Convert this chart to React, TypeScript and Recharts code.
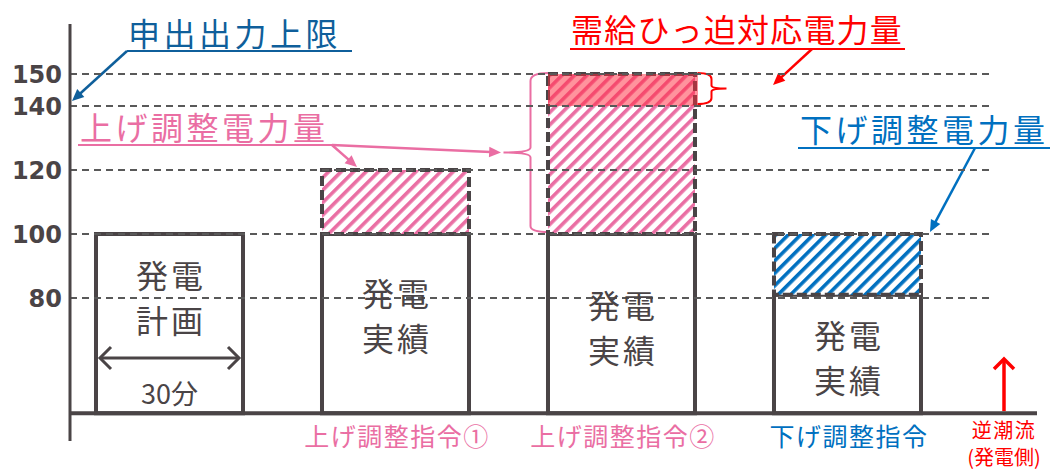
import { ComposedChart, Bar, XAxis, YAxis, ReferenceLine, LabelList, Cell, Customized } from "recharts";

const categories = ["発電計画", "上げ調整指令①", "上げ調整指令②", "下げ調整指令"];
const axisLabels = ["", "上げ調整指令①", "上げ調整指令②", "下げ調整指令"];
const positions = [0, 1, 2, 3];
const barTexts = [
  ["発電", "計画"],
  ["発電", "実績"],
  ["発電", "実績"],
  ["発電", "実績"],
];
const baseLevel = 44;
const actualValues = [100, 100, 100, 81];
const adjustRanges: (number[] | null)[] = [null, [100, 120], [100, 150], [81, 100]];
const tightRanges: (number[] | null)[] = [null, null, [140, 150], null];
const yTicks = [80, 100, 120, 140, 150];
const gridLevels = [80, 100, 120, 140, 150];
const durationLabel = "30分";

const DARK = "#4a4446";
const PINK = "#ea6ea3";
const BLUE = "#0070c0";
const NAVY = "#0f5f9b";
const RED = "#ff0000";
const JP = "'Noto Sans CJK JP', 'Noto Sans', sans-serif";

// chart frame
const W = 1053;
const H = 469;
const PLOT_L = 70;
const PLOT_R = 1037;
const PLOT_T = 24;
const PLOT_B = 441;
const X_DOMAIN: [number, number] = [-0.4469, 3.8319];
const Y_DOMAIN: [number, number] = [35.3125, 165.625];
const BAR = 147;

const sx = (v: number) => PLOT_L + ((v - X_DOMAIN[0]) / (X_DOMAIN[1] - X_DOMAIN[0])) * (PLOT_R - PLOT_L);
const sy = (v: number) => PLOT_B - ((v - Y_DOMAIN[0]) / (Y_DOMAIN[1] - Y_DOMAIN[0])) * (PLOT_B - PLOT_T);

const hatchFills = ["#fff", "url(#hatchPink)", "url(#hatchPink)", "url(#hatchBlue)"];
const axisColors = [DARK, PINK, PINK, BLUE];
const textShift = [-27, -9, 3, 2];

const data = positions.map((pos, i) => ({
  pos,
  name: categories[i],
  actual: [baseLevel, actualValues[i]],
  adjust: adjustRanges[i],
  tight: tightRanges[i],
}));

function Arrow({ x1, y1, x2, y2, color, width = 2.5, head = 13 }: any) {
  const a = Math.atan2(y2 - y1, x2 - x1);
  const s = 0.42;
  const p1 = [x2 - head * Math.cos(a - s), y2 - head * Math.sin(a - s)];
  const p2 = [x2 - head * Math.cos(a + s), y2 - head * Math.sin(a + s)];
  const bx = x2 - head * 0.8 * Math.cos(a);
  const by = y2 - head * 0.8 * Math.sin(a);
  return (
    <g>
      <line x1={x1} y1={y1} x2={bx} y2={by} stroke={color} strokeWidth={width} />
      <polygon points={`${x2},${y2} ${p1[0]},${p1[1]} ${p2[0]},${p2[1]}`} fill={color} />
    </g>
  );
}

function Chevron({ x, y, dir, color, size = 11, width = 3 }: any) {
  const pts =
    dir === "left"
      ? `${x + size},${y - size} ${x},${y} ${x + size},${y + size}`
      : dir === "right"
      ? `${x - size},${y - size} ${x},${y} ${x - size},${y + size}`
      : `${x - size},${y + size} ${x},${y} ${x + size},${y + size}`;
  return <polyline points={pts} fill="none" stroke={color} strokeWidth={width} />;
}

function BarText(props: any) {
  const { x, y, width, height, index } = props;
  const cx = x + width / 2;
  const cy = y + height / 2 + textShift[index];
  const lines = barTexts[index];
  const l = x + 4;
  const r = x + width - 4;
  return (
    <g>
      {lines.map((t, k) => (
        <text
          key={k}
          x={cx + 1.5}
          y={cy + (k - 0.5) * 45}
          textAnchor="middle"
          dominantBaseline="central"
          fontFamily={JP}
          fontSize={32}
          letterSpacing={3}
          fill={DARK}
        >
          {t}
        </text>
      ))}
      {index === 0 && (
        <g>
          <line x1={l} y1={358} x2={r} y2={358} stroke={DARK} strokeWidth={3} />
          <Chevron x={l} y={358} dir="left" color={DARK} />
          <Chevron x={r} y={358} dir="right" color={DARK} />
          <text x={cx} y={392} textAnchor="middle" dominantBaseline="central" fontFamily={JP} fontSize={27} fill={DARK}>
            {durationLabel}
          </text>
        </g>
      )}
    </g>
  );
}

function AxisTick(props: any) {
  const { x, y, payload } = props;
  const i = positions.indexOf(payload.value);
  return (
    <text
      x={x}
      y={y - 14}
      textAnchor="middle"
      dominantBaseline="central"
      fontFamily={JP}
      fontSize={25}
      letterSpacing={1.5}
      fill={axisColors[i]}
    >
      {axisLabels[i]}
    </text>
  );
}

function Overlay() {
  const b3l = sx(2) - BAR / 2 - 1;
  const b3r = sx(2) + BAR / 2 + 1;
  const t150 = sy(150) - 1;
  const t140 = sy(140) - 2;
  const t100 = sy(100) - 2;
  const midPink = (t150 + t100) / 2;
  const midRed = (t150 + t140) / 2;
  const flowX = 1004;
  const base = sy(baseLevel);
  return (
    <g>
      {/* 申出出力上限 */}
      <text x={128} y={32} dominantBaseline="central" fontFamily={JP} fontSize={32} letterSpacing={3.5} fill={NAVY}>
        申出出力上限
      </text>
      <line x1={127} y1={51} x2={352} y2={51} stroke={NAVY} strokeWidth={2} />
      <Arrow x1={127} y1={51} x2={72} y2={101} color={NAVY} />

      {/* 需給ひっ迫対応電力量 */}
      <text x={571} y={28} dominantBaseline="central" fontFamily={JP} fontSize={32} letterSpacing={1.2} fill={RED}>
        需給ひっ迫対応電力量
      </text>
      <line x1={570} y1={49} x2={905} y2={49} stroke={RED} strokeWidth={2} />
      <Arrow x1={812} y1={49} x2={773} y2={85} color={RED} />

      {/* 上げ調整電力量 */}
      <text x={80} y={126} dominantBaseline="central" fontFamily={JP} fontSize={32} letterSpacing={3.5} fill={PINK}>
        上げ調整電力量
      </text>
      <line x1={78} y1={145} x2={332} y2={145} stroke={PINK} strokeWidth={2} />
      <Arrow x1={332} y1={145} x2={357} y2={167} color={PINK} />
      <Arrow x1={332} y1={145} x2={501} y2={midPink} color={PINK} />

      {/* 下げ調整電力量 */}
      <text x={800} y={128} dominantBaseline="central" fontFamily={JP} fontSize={32} letterSpacing={3.5} fill={BLUE}>
        下げ調整電力量
      </text>
      <line x1={798} y1={148} x2={1050} y2={148} stroke={BLUE} strokeWidth={2} />
      <Arrow x1={975} y1={148} x2={930} y2={232} color={BLUE} />

      {/* pink brace */}
      <path
        d={`M ${b3l} ${t150} Q ${b3l - 18} ${t150} ${b3l - 18} ${t150 + 8} L ${b3l - 18} ${midPink - 5} Q ${b3l - 18} ${midPink} ${b3l - 45} ${midPink} Q ${b3l - 18} ${midPink} ${b3l - 18} ${midPink + 5} L ${b3l - 18} ${t100 - 6} Q ${b3l - 18} ${t100} ${b3l} ${t100}`}
        fill="none"
        stroke={PINK}
        strokeWidth={2}
      />
      {/* red brace */}
      <path
        d={`M ${b3r} ${t150} Q ${b3r + 14} ${t150} ${b3r + 14} ${t150 + 6} L ${b3r + 14} ${midRed - 3} Q ${b3r + 14} ${midRed} ${b3r + 29} ${midRed} Q ${b3r + 14} ${midRed} ${b3r + 14} ${midRed + 3} L ${b3r + 14} ${t140 - 6} Q ${b3r + 14} ${t140} ${b3r} ${t140}`}
        fill="none"
        stroke={RED}
        strokeWidth={2}
      />

      {/* 逆潮流 */}
      <line x1={flowX} y1={base - 2} x2={flowX} y2={359} stroke={RED} strokeWidth={3.5} />
      <Chevron x={flowX} y={359} dir="up" color={RED} size={10} width={3.5} />
      <text x={flowX} y={429} textAnchor="middle" dominantBaseline="central" fontFamily={JP} fontSize={20} letterSpacing={1.5} fill={RED}>
        逆潮流
      </text>
      <text x={flowX} y={456} textAnchor="middle" dominantBaseline="central" fontFamily={JP} fontSize={20} fill={RED}>
        (発電側)
      </text>
    </g>
  );
}

export default function App() {
  return (
    <div style={{ position: "absolute", left: 0, top: 0, width: W, height: H, background: "#fff" }}>
      <ComposedChart
        width={W}
        height={H}
        data={data}
        margin={{ top: PLOT_T, right: W - PLOT_R, bottom: 0, left: 0 }}
        barGap={-BAR}
      >
        <defs>
          <pattern id="hatchPink" patternUnits="userSpaceOnUse" width={8.8} height={8.8} patternTransform="rotate(45)">
            <rect width={8.8} height={8.8} fill="#fff" />
            <rect width={3.6} height={8.8} fill={PINK} />
          </pattern>
          <pattern id="hatchBlue" patternUnits="userSpaceOnUse" width={8.8} height={8.8} patternTransform="rotate(45)">
            <rect width={8.8} height={8.8} fill="#fff" />
            <rect width={3.6} height={8.8} fill={BLUE} />
          </pattern>
        </defs>
        <XAxis
          type="number"
          dataKey="pos"
          domain={X_DOMAIN}
          allowDataOverflow
          ticks={[1, 2, 3]}
          height={H - PLOT_B}
          axisLine={false}
          tickLine={false}
          tick={<AxisTick />}
          interval={0}
        />
        <YAxis
          type="number"
          domain={Y_DOMAIN}
          allowDataOverflow
          ticks={yTicks}
          width={PLOT_L}
          axisLine={{ stroke: DARK, strokeWidth: 3 }}
          tickLine={false}
          interval={0}
          tick={{ fill: DARK, fontSize: 24, fontWeight: 700, fontFamily: "'DejaVu Sans', sans-serif" }}
        />
        {gridLevels.map((g) => (
          <ReferenceLine
            key={g}
            segment={[
              { x: X_DOMAIN[0], y: g },
              { x: 3.62, y: g },
            ]}
            stroke="#595959"
            strokeWidth={2}
            strokeDasharray="7 5"
          />
        ))}
        <Bar dataKey="actual" barSize={BAR} fill="#fff" stroke={DARK} strokeWidth={4} isAnimationActive={false}>
          <LabelList dataKey="name" content={<BarText />} />
        </Bar>
        <Bar
          dataKey="adjust"
          barSize={BAR}
          stroke={DARK}
          strokeWidth={4}
          strokeDasharray="10 4"
          isAnimationActive={false}
        >
          {data.map((d, i) => (
            <Cell key={d.name} fill={hatchFills[i]} />
          ))}
        </Bar>
        <Bar dataKey="tight" barSize={BAR + 3} fill="rgba(255,40,60,0.5)" isAnimationActive={false} />
        <ReferenceLine y={baseLevel} stroke={DARK} strokeWidth={4} />
        <Customized component={Overlay} />
      </ComposedChart>
    </div>
  );
}
